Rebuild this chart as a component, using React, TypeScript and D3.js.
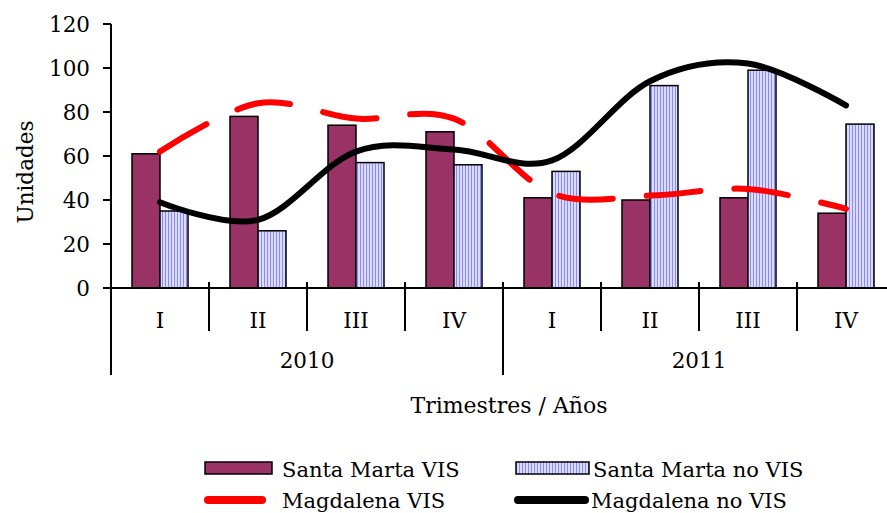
import React from 'react';
import * as d3 from 'd3';

const quarters = ['I', 'II', 'III', 'IV', 'I', 'II', 'III', 'IV'];
const years = ['2010', '2011'];
const santaMartaVIS = [61, 78, 74, 71, 41, 40, 41, 34];
const santaMartaNoVIS = [35, 26, 57, 56, 53, 92, 99, 74.5];
const magdalenaVIS = [62, 84, 77, 77, 43, 42, 45, 36];
const magdalenaNoVIS = [39, 31, 62, 63, 58, 94, 102, 83];
const yTicks = [0, 20, 40, 60, 80, 100, 120];
const legendLabels = ['Santa Marta VIS', 'Santa Marta no VIS', 'Magdalena VIS', 'Magdalena no VIS'];

const FONT = "'DejaVu Serif', serif";

export default function App() {
  const W = 887;
  const H = 513;
  const idx = d3.range(quarters.length);
  const x = d3.scaleBand<number>().domain(idx).range([111, 895]).padding(0);
  const y = d3.scaleLinear().domain([0, 120]).range([288, 24]);
  const bw = x.bandwidth();
  const barW = 28;
  const inner = d3.scaleBand<number>().domain([0, 1]).range([-barW, barW]).padding(0);

  const curve = d3.curveCardinal.tension(0);
  const lineGen = (vals: number[]) =>
    d3.line<number>().x((i) => (x(i) as number) + bw / 2).y((i) => y(vals[i])).curve(curve)(idx) || '';

  const yearCenters = years.map((_, k) => (x(k * 4) as number) + (bw * 4) / 2);

  return (
    <svg width={W} height={H} style={{ position: 'absolute', left: 0, top: 0, background: '#fff' }} fontFamily={FONT}>
      <defs>
        <pattern id="vstripe" width="3" height="6" patternUnits="userSpaceOnUse">
          <rect width="3" height="6" fill="#dcdcff" />
          <rect x="0" width="1" height="6" fill="#8a8aff" />
        </pattern>
      </defs>

      {/* bars */}
      {idx.map((i) => {
        const cx = (x(i) as number) + bw / 2;
        return (
          <g key={i}>
            <rect x={cx + (inner(0) as number)} y={y(santaMartaVIS[i])} width={barW} height={y(0) - y(santaMartaVIS[i])}
              fill="#993366" stroke="#000" strokeWidth={1.5} />
            <rect x={cx + (inner(1) as number)} y={y(santaMartaNoVIS[i])} width={barW} height={y(0) - y(santaMartaNoVIS[i])}
              fill="url(#vstripe)" stroke="#000" strokeWidth={1.5} />
          </g>
        );
      })}

      {/* y axis */}
      <line x1={111} x2={111} y1={y(120)} y2={375} stroke="#000" strokeWidth={2} />
      {yTicks.map((t) => (
        <g key={t}>
          <line x1={103} x2={111} y1={y(t)} y2={y(t)} stroke="#000" strokeWidth={2} />
          <text x={90} y={y(t)} dy="0.36em" textAnchor="end" fontSize={21.5} fill="#000">{t}</text>
        </g>
      ))}
      <text transform={`translate(33,${172}) rotate(-90)`} textAnchor="middle" fontSize={21.5} fill="#000">Unidades</text>

      {/* x axis */}
      <line x1={103} x2={W} y1={y(0)} y2={y(0)} stroke="#000" strokeWidth={2} />
      {d3.range(1, quarters.length + 1).map((i) => {
        const xx = i < quarters.length ? (x(i) as number) : (x(i - 1) as number) + bw;
        const isYear = i % 4 === 0;
        return <line key={i} x1={xx} x2={xx} y1={282} y2={isYear ? 375 : 331} stroke="#000" strokeWidth={2} />;
      })}
      {quarters.map((q, i) => (
        <text key={i} x={(x(i) as number) + bw / 2} y={328} textAnchor="middle" fontSize={21.5} fill="#000">{q}</text>
      ))}
      {years.map((yr, k) => (
        <text key={yr} x={yearCenters[k]} y={368} textAnchor="middle" fontSize={21.5} fill="#000">{yr}</text>
      ))}
      <text x={509} y={413} textAnchor="middle" fontSize={22} fill="#000">Trimestres / Años</text>

      {/* lines */}
      <path d={lineGen(magdalenaVIS)} fill="none" stroke="#ff0000" strokeWidth={6} strokeDasharray="54 34" strokeLinecap="round" />
      <path d={lineGen(magdalenaNoVIS)} fill="none" stroke="#000" strokeWidth={6} strokeLinecap="round" />

      {/* legend */}
      <rect x={205} y={462} width={67} height={12} fill="#993366" stroke="#000" strokeWidth={1.5} />
      <text x={282} y={477} fontSize={21} fill="#000">{legendLabels[0]}</text>
      <rect x={516} y={462} width={73} height={12} fill="url(#vstripe)" stroke="#000" strokeWidth={1.5} />
      <text x={593} y={477} fontSize={21} fill="#000">{legendLabels[1]}</text>
      <line x1={208} x2={262} y1={500} y2={500} stroke="#ff0000" strokeWidth={8} strokeLinecap="round" />
      <text x={282} y={508} fontSize={21} fill="#000">{legendLabels[2]}</text>
      <line x1={518} x2={585} y1={500} y2={500} stroke="#000" strokeWidth={8} strokeLinecap="round" />
      <text x={591} y={508} fontSize={21} fill="#000">{legendLabels[3]}</text>
    </svg>
  );
}
